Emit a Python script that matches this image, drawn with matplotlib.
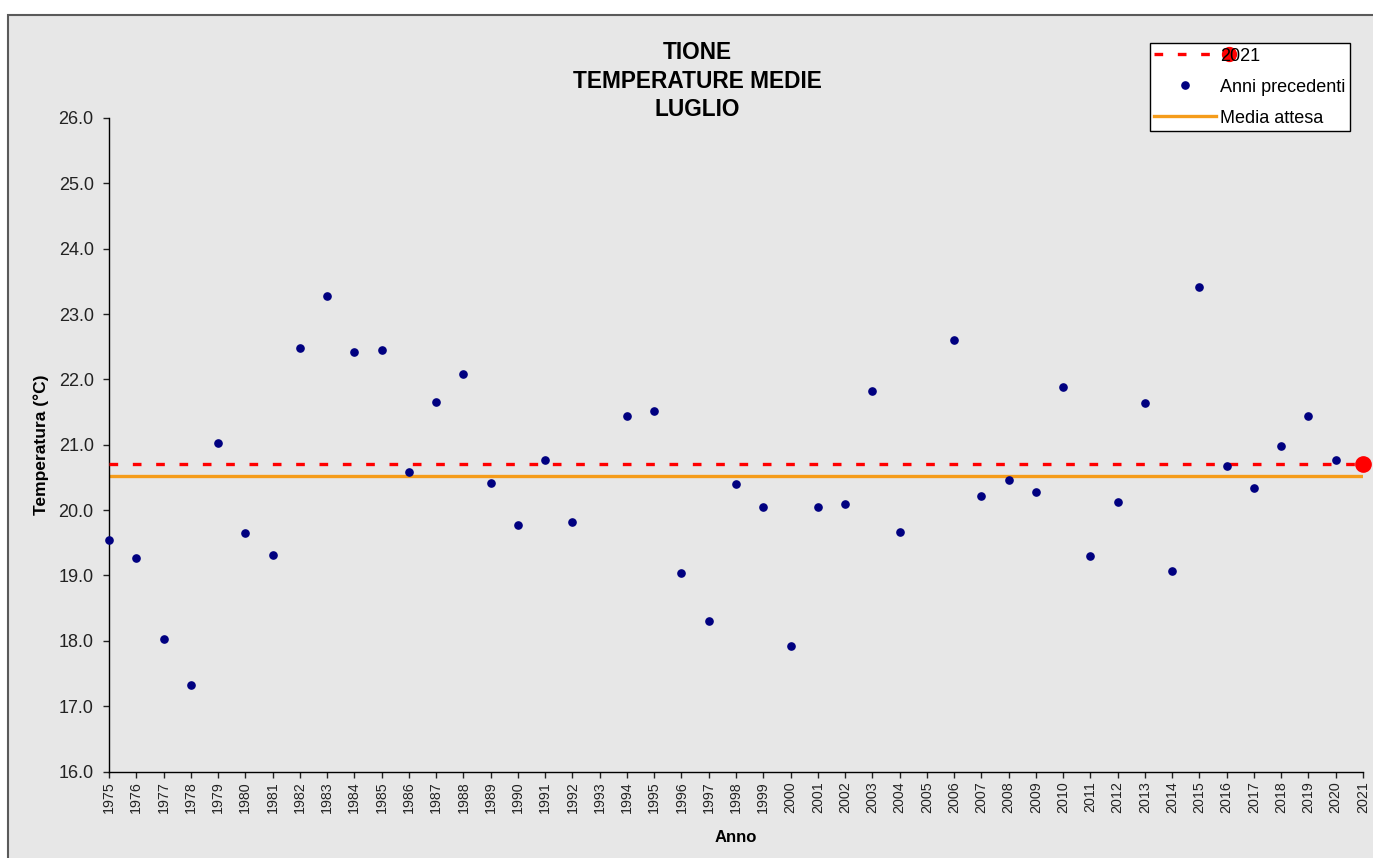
import numpy as np
import matplotlib
matplotlib.use("Agg")
import matplotlib.pyplot as plt
from matplotlib.lines import Line2D
from matplotlib.patches import Rectangle
from matplotlib.legend_handler import HandlerBase

plt.rcParams['font.family'] = ['Liberation Sans', 'DejaVu Sans']

# ---- data ----
anni = list(range(1975, 2021))
temp_prec = [19.55, 19.27, 18.03, 17.33, 21.02, 19.65, 19.31, 22.48, 23.27, 22.42,
             22.45, 20.58, 21.66, 22.09, 20.41, 19.77, 20.76, 19.82, np.nan, 21.44,
             21.51, 19.04, 18.31, 20.40, 20.05, 17.92, 20.05, 20.09, 21.83, 19.67,
             np.nan, 22.60, 20.21, 20.46, 20.28, 21.88, 19.30, 20.13, 21.64, 19.07,
             23.41, 20.68, 20.34, 20.98, 21.44, 20.76]
anno_corrente = 2021
temp_corrente = 20.70
media_attesa = 20.52
anno_inizio, anno_fine = 1975, 2021
yticks = [16, 17, 18, 19, 20, 21, 22, 23, 24, 25, 26]

W, H = 1373, 858
fig = plt.figure(figsize=(W / 100, H / 100), dpi=100)
fig.patch.set_facecolor('white')

# textured-grey chart area with border (left/top visible, cropped right/bottom)
bg = Rectangle((8 / W, -0.05), 1.2, 1.05 - 15 / H, transform=fig.transFigure,
               facecolor='#e7e7e7', edgecolor='#5a5a5a', linewidth=1.5, zorder=-10)
fig.patches.append(bg)

ax = fig.add_axes([109 / W, 1 - 771.5 / H, (1363 - 109) / W, (771.5 - 118) / H])
ax.set_facecolor('none')

years_all = np.arange(anno_inizio, anno_fine + 1)
ax.plot([anno_inizio, anno_fine], [media_attesa, media_attesa], color='#f59c1a',
        lw=2.4, solid_capstyle='butt', zorder=2)
ax.plot([anno_inizio, anno_fine], [temp_corrente, temp_corrente], color='#ff0000',
        lw=2.4, ls=(0, (2.6, 4.4)), zorder=3)
ax.plot(anni, temp_prec, ls='none', marker='o', ms=5.2, color='#000080', zorder=4,
        clip_on=False)
ax.plot([anno_corrente], [temp_corrente], ls='none', marker='o', ms=11,
        color='#ff0000', zorder=5, clip_on=False)

ax.set_xlim(anno_inizio, anno_fine)
ax.set_ylim(16, 26)
ax.set_xticks(years_all)
ax.set_xticklabels([str(y) for y in years_all], rotation=90, fontsize=10.3)
ax.set_yticks(yticks)
ax.set_yticklabels([f"{v:.1f}" for v in yticks], fontsize=13)
for s in ['top', 'right']:
    ax.spines[s].set_visible(False)
for s in ['left', 'bottom']:
    ax.spines[s].set_linewidth(1.0)
    ax.spines[s].set_color('black')
ax.tick_params(axis='y', length=4, width=1, pad=7, colors='#222222')
ax.tick_params(axis='x', length=4, width=1, pad=3, colors='#222222')

ax.set_xlabel('Anno', fontsize=12, fontweight='bold')
ax.set_ylabel('Temperatura (°C)', fontsize=12.5, fontweight='bold')
ax.yaxis.set_label_coords(-(109 - 49) / (1363 - 109), 0.5)
ax.xaxis.set_label_coords(0.5, -(830 - 771.5) / (771.5 - 118))

fig.text(697 / W, 1 - 81 / H, 'TIONE\nTEMPERATURE MEDIE\nLUGLIO', ha='center',
         va='center', fontsize=16.3, fontweight='bold', linespacing=1.32)


class DashEndDot(HandlerBase):
    def create_artists(self, legend, orig_handle, xdescent, ydescent, width, height,
                       fontsize, trans):
        y = height / 2 - ydescent
        l = Line2D([-xdescent, width - xdescent], [y, y], color='#ff0000', lw=2.4,
                   ls=(0, (2.6, 4.4)))
        m = Line2D([width - xdescent + 0.75 * fontsize], [y], marker='o', ms=10,
                   color='#ff0000', ls='none')
        l.set_transform(trans)
        m.set_transform(trans)
        return [l, m]


h1 = Line2D([], [], color='#ff0000', lw=2.4, ls=(0, (2.6, 4.4)))
h2 = Line2D([], [], ls='none', marker='o', ms=5.2, color='#000080')
h3 = Line2D([], [], color='#f59c1a', lw=2.4)
leg = fig.legend([h1, h2, h3], [str(anno_corrente), 'Anni precedenti', 'Media attesa'],
                 loc='upper right', bbox_to_anchor=(1350 / W, 1 - 43 / H),
                 bbox_transform=fig.transFigure, borderaxespad=0, fontsize=13,
                 frameon=True, fancybox=False, edgecolor='black', facecolor='white',
                 framealpha=1, handlelength=3.4, handletextpad=0.25,
                 labelspacing=0.78, borderpad=0.25,
                 handler_map={h1: DashEndDot()})
leg.get_frame().set_linewidth(1.0)
leg.set_zorder(20)

fig.savefig('out.png', dpi=100)
